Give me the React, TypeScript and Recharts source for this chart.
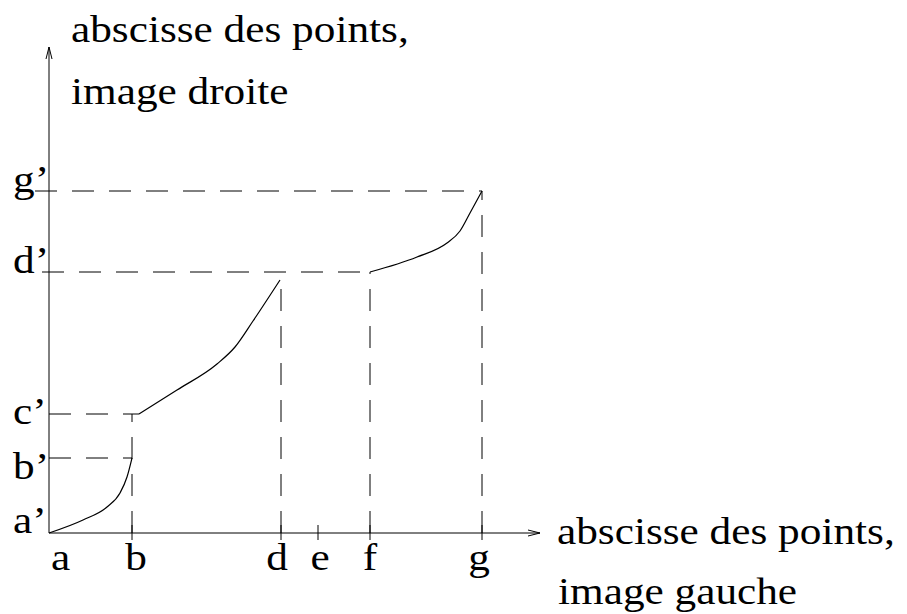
import { LineChart, Line, XAxis, YAxis, ReferenceLine } from 'recharts';

// abscissae on the left image (pixel-like units from the origin)
const X_TICKS = [0, 83, 232, 269, 321, 433];
const X_LABELS = ['a', 'b', 'd', 'e', 'f', 'g'];

// abscissae on the right image
const Y_TICKS = [0, 75, 119, 261, 342];
const Y_LABELS = ['a’', 'b’', 'c’', 'd’', 'g’'];

// the three pieces of the matching curve
const SEG_AB = [
  { x: 0, y: 0 },
  { x: 34, y: 13 },
  { x: 58, y: 26 },
  { x: 71, y: 40 },
  { x: 78, y: 56 },
  { x: 83, y: 75 },
];
const SEG_BD = [
  { x: 90, y: 119 },
  { x: 128, y: 143 },
  { x: 168, y: 169 },
  { x: 186, y: 186 },
  { x: 204, y: 212 },
  { x: 231, y: 253 },
];
const SEG_FG = [
  { x: 321, y: 261 },
  { x: 368, y: 276 },
  { x: 398, y: 290 },
  { x: 411, y: 302 },
  { x: 421, y: 320 },
  { x: 433, y: 342 },
];

// dashed guides
const GUIDES_H = [
  { y: 75, from: 0, to: 83 },
  { y: 119, from: 0, to: 90 },
  { y: 261, from: -7, to: 321 },
  { y: 342, from: -14, to: 433 },
];
const GUIDES_V = [
  { x: 83, to: 119 },
  { x: 232, to: 253 },
  { x: 321, to: 261 },
  { x: 433, to: 342 },
];

const X_MAX = 491;
const Y_MAX = 486;

const FONT = '"Liberation Serif", "DejaVu Serif", serif';
const FS = 37;
const STRETCH = 1.17;

const X_DX = [2, 4, -4, 2, 0, -3];
const Y_DY = [0, 21, 10, 1, 1];

function SText({ x, y, anchor = 'start', children }: any) {
  return (
    <text
      transform={`translate(${x},${y}) scale(${STRETCH},1)`}
      textAnchor={anchor}
      fontFamily={FONT}
      fontSize={FS}
      fill="#000"
    >
      {children}
    </text>
  );
}

function XTick(props: any) {
  const { x, y, index } = props;
  return (
    <g>
      {index > 0 && <line x1={x} x2={x} y1={y - 8} y2={y + 7} stroke="#000" />}
      <SText x={x + X_DX[index]} y={y + 37} anchor={index === 0 ? 'start' : 'middle'}>
        {X_LABELS[index]}
      </SText>
    </g>
  );
}

function YTick(props: any) {
  const { x, y, index } = props;
  return (
    <SText x={x - 36} y={y + Y_DY[index]}>
      {Y_LABELS[index]}
    </SText>
  );
}

export default function App() {
  const dash = '22 15';
  return (
    <LineChart width={899} height={606} margin={{ top: 39, right: 367, bottom: 41, left: 1 }}>
      <XAxis
        type="number"
        dataKey="x"
        domain={[0, X_MAX]}
        ticks={X_TICKS}
        interval={0}
        tickSize={0}
        tickMargin={0}
        tickLine={false}
        height={40}
        axisLine={{ stroke: '#000' }}
        tick={XTick}
      />
      <YAxis
        type="number"
        dataKey="y"
        domain={[0, Y_MAX]}
        ticks={Y_TICKS}
        interval={0}
        tickSize={0}
        tickMargin={0}
        tickLine={false}
        width={40}
        axisLine={{ stroke: '#000' }}
        tick={YTick}
      />
      {GUIDES_H.map((g, i) => (
        <ReferenceLine
          key={'h' + i}
          segment={[{ x: g.from, y: g.y }, { x: g.to, y: g.y }]}
          stroke="#000"
          strokeDasharray={dash}
          ifOverflow="visible"
        />
      ))}
      {GUIDES_V.map((g, i) => (
        <ReferenceLine
          key={'v' + i}
          segment={[{ x: g.x, y: 0 }, { x: g.x, y: g.to }]}
          stroke="#000"
          strokeDasharray={dash}
          ifOverflow="visible"
        />
      ))}
      {/* arrow heads */}
      <ReferenceLine segment={[{ x: X_MAX - 12, y: 3 }, { x: X_MAX, y: 0 }]} stroke="#000" ifOverflow="visible" />
      <ReferenceLine segment={[{ x: X_MAX - 12, y: -3 }, { x: X_MAX, y: 0 }]} stroke="#000" ifOverflow="visible" />
      <ReferenceLine segment={[{ x: -3, y: Y_MAX - 12 }, { x: 0, y: Y_MAX }]} stroke="#000" ifOverflow="visible" />
      <ReferenceLine segment={[{ x: 3, y: Y_MAX - 12 }, { x: 0, y: Y_MAX }]} stroke="#000" ifOverflow="visible" />
      <Line data={SEG_AB} dataKey="y" type="monotone" stroke="#000" strokeWidth={1.2} dot={false} isAnimationActive={false} />
      <Line data={SEG_BD} dataKey="y" type="monotone" stroke="#000" strokeWidth={1.2} dot={false} isAnimationActive={false} />
      <Line data={SEG_FG} dataKey="y" type="monotone" stroke="#000" strokeWidth={1.2} dot={false} isAnimationActive={false} />
      <SText x={63} y={34}>abscisse des points,</SText>
      <SText x={63} y={96}>image droite</SText>
      <SText x={549} y={536}>abscisse des points,</SText>
      <SText x={550} y={596}>image gauche</SText>
    </LineChart>
  );
}
